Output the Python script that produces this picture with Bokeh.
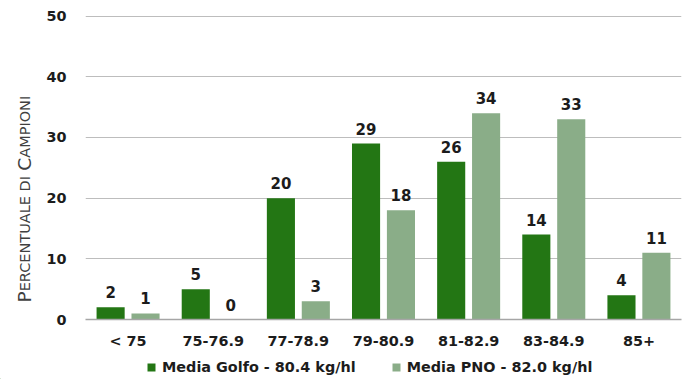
import math

from bokeh.core.properties import value
from bokeh.embed import file_html
from bokeh.layouts import column, row
from bokeh.models import (ColumnDataSource, FactorRange, Label, Legend,
                          LegendItem, Range1d, SingleIntervalTicker)
from bokeh.plotting import figure
from bokeh.resources import INLINE
from bokeh.transform import dodge

# Test weight classes (kg/hl) and share of samples (%)
classes = ["< 75", "75-76.9", "77-78.9", "79-80.9", "81-82.9", "83-84.9", "85+"]
golfo = [2, 5, 20, 29, 26, 14, 4]
pno = [1, 0, 3, 18, 34, 33, 11]
golfo_name = "Media Golfo - 80.4 kg/hl"
pno_name = "Media PNO - 82.0 kg/hl"
y_ticks = [0, 10, 20, 30, 40, 50]

DARK = "#237614"
LIGHT = "#8aad88"
TEXT = "#1c1c1c"
FONT = "DejaVu Sans"

W, H = 692, 379
TITLE_W = 40      # strip holding the vertical axis title
LEGEND_H = 24     # strip holding the legend
MAIN_H = H - LEGEND_H
TOP, FRAME_H = 15, 304
BOTTOM = MAIN_H - TOP - FRAME_H


def bare(fig):
    fig.outline_line_color = None
    fig.background_fill_color = "white"
    fig.border_fill_color = "white"
    fig.grid.grid_line_color = None
    return fig


src = ColumnDataSource(dict(
    cls=classes,
    golfo=golfo,
    pno=pno,
    golfo_lbl=[str(v) for v in golfo],
    pno_lbl=[str(v) for v in pno],
))

# ---- main chart -------------------------------------------------------
p = figure(
    x_range=FactorRange(*classes, range_padding=0),
    y_range=Range1d(y_ticks[0], y_ticks[-1] + 0.1),
    width=W - TITLE_W, height=MAIN_H,
    min_border_left=85 - TITLE_W, min_border_right=11,
    min_border_top=TOP, min_border_bottom=BOTTOM,
    output_backend="svg", toolbar_location=None,
)
p.outline_line_color = None
p.background_fill_color = "white"
p.border_fill_color = "white"

off = 0.205
bw = 0.33
p.vbar(x=dodge("cls", -off, range=p.x_range), top="golfo", width=bw,
       source=src, fill_color=DARK, line_color=None)
p.vbar(x=dodge("cls", off, range=p.x_range), top="pno", width=bw,
       source=src, fill_color=LIGHT, line_color=None)

# value labels above each bar
for col, lbl, dx in (("golfo", "golfo_lbl", -off), ("pno", "pno_lbl", off)):
    p.text(x=dodge("cls", dx, range=p.x_range), y=col, text=lbl, source=src,
           text_align="center", text_baseline="alphabetic", y_offset=-15,
           text_font=value(FONT), text_font_style="bold",
           text_font_size="15px", text_color=TEXT)

p.yaxis.ticker = SingleIntervalTicker(interval=10)
p.ygrid.ticker = SingleIntervalTicker(interval=10)
p.yaxis.axis_line_color = None
p.yaxis.major_tick_line_color = None
p.yaxis.minor_tick_line_color = None
p.yaxis.major_tick_out = 0
p.yaxis.minor_tick_out = 0
p.yaxis.major_label_standoff = 19
p.yaxis.major_label_text_font = FONT
p.yaxis.major_label_text_font_style = "bold"
p.yaxis.major_label_text_font_size = "14.4px"
p.yaxis.major_label_text_color = TEXT

p.xaxis.axis_line_color = "#a6a6a6"
p.xaxis.axis_line_width = 1.5
p.xaxis.major_tick_line_color = None
p.xaxis.minor_tick_line_color = None
p.xaxis.major_tick_out = 0
p.xaxis.minor_tick_out = 0
p.xaxis.major_label_standoff = 13
p.xaxis.major_label_text_font = FONT
p.xaxis.major_label_text_font_style = "bold"
p.xaxis.major_label_text_font_size = "14.4px"
p.xaxis.major_label_text_color = TEXT

p.xgrid.grid_line_color = None
p.ygrid.grid_line_color = "#bdbdbd"
p.ygrid.grid_line_width = 1.2

# ---- vertical axis title, small caps built from pieces -----------------
t = bare(figure(width=TITLE_W, height=MAIN_H,
                min_border_left=0, min_border_right=0,
                min_border_top=TOP, min_border_bottom=BOTTOM,
                x_range=Range1d(0, TITLE_W), y_range=Range1d(0, FRAME_H),
                x_axis_location=None, y_axis_location=None,
                output_backend="svg", toolbar_location=None))
big, small = 18.5, 14.5
pieces = [("P", big), ("ERCENTUALE DI ", small), ("C", big), ("AMPIONI", small)]
em = {"P": 0.603, "E": 0.632, "R": 0.695, "C": 0.698, "N": 0.748, "T": 0.611,
      "U": 0.732, "A": 0.684, "L": 0.557, " ": 0.318, "D": 0.770, "I": 0.295,
      "M": 0.863, "O": 0.787}
pos = TOP + FRAME_H - 302.0
for txt, size in pieces:
    t.add_layout(Label(x=24, y=pos, x_units="screen", y_units="screen",
                       text=txt, angle=math.pi / 2, text_font=FONT,
                       text_font_size=f"{size}px", text_color="#404040",
                       text_align="left", text_baseline="alphabetic"))
    pos += sum(em[c] for c in txt) * size

# ---- legend strip ------------------------------------------------------
lg = bare(figure(width=W, height=LEGEND_H, min_border=0,
                 x_range=Range1d(0, W), y_range=Range1d(0, LEGEND_H),
                 x_axis_location=None, y_axis_location=None,
                 output_backend="svg", toolbar_location=None))
key_golfo = lg.vbar(x=[-50], top=[1], width=1, fill_color=DARK, line_color=None)
key_pno = lg.vbar(x=[-50], top=[1], width=1, fill_color=LIGHT, line_color=None)
legend = Legend(
    items=[LegendItem(label=golfo_name, renderers=[key_golfo]),
           LegendItem(label=pno_name, renderers=[key_pno])],
    orientation="horizontal", location=(146, 2),
    glyph_width=10, glyph_height=10, label_standoff=6, spacing=35,
    label_height=20, padding=0, margin=0, border_line_color=None,
    background_fill_alpha=0,
    label_text_font=FONT, label_text_font_style="bold",
    label_text_font_size="14.4px", label_text_color=TEXT,
)
lg.add_layout(legend, "center")

layout = column(row(t, p, spacing=0), lg, spacing=0)
open("out.html", "w").write(file_html(layout, INLINE))
